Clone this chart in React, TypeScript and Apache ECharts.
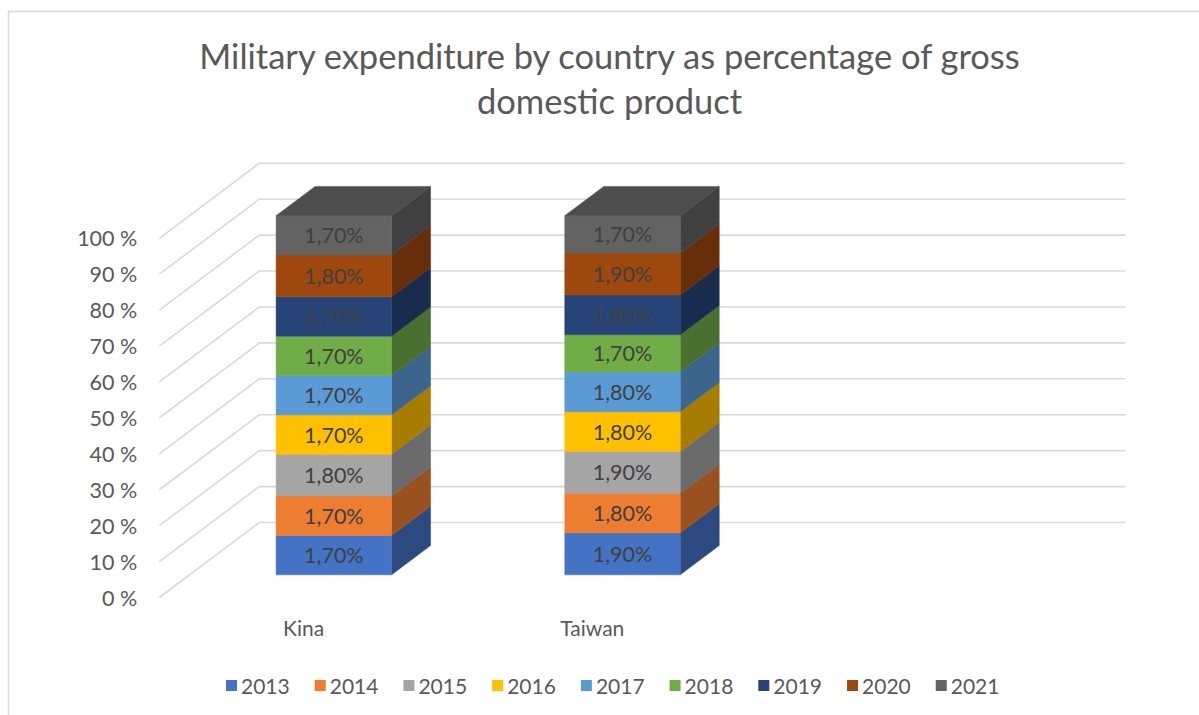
import React, { useEffect, useRef } from "react";
import * as echarts from "echarts";

const categories = ["Kina", "Taiwan", ""];
const years = ["2013", "2014", "2015", "2016", "2017", "2018", "2019", "2020", "2021"];
const kinaValues = [1.7, 1.7, 1.8, 1.7, 1.7, 1.7, 1.7, 1.8, 1.7];
const taiwanValues = [1.9, 1.8, 1.9, 1.8, 1.8, 1.7, 1.8, 1.9, 1.7];
const yTicks = [0, 10, 20, 30, 40, 50, 60, 70, 80, 90, 100];
const frontColors = ["#4472C4", "#ED7D31", "#A5A5A5", "#FFC000", "#5B9BD5", "#70AD47", "#264478", "#9E480E", "#636363"];

const FONT = "Lato";
const DX = 100; // per unit depth
const DY = -75;
const Z_FRONT = 0.302;
const Z_BACK = 0.692;
const BAR_RATIO = 0.4;

function shade(hex: string, f: number): string {
  const n = parseInt(hex.slice(1), 16);
  const r = Math.round(((n >> 16) & 255) * f);
  const g = Math.round(((n >> 8) & 255) * f);
  const b = Math.round((n & 255) * f);
  return "rgb(" + r + "," + g + "," + b + ")";
}

export default function App() {
  const ref = useRef<HTMLDivElement>(null);
  useEffect(() => {
    if (!ref.current) return;
    const chart = echarts.init(ref.current, undefined, { renderer: "svg" });
    const countryValues = [kinaValues, taiwanValues];
    const totals = countryValues.map((vals) => vals.reduce((a, b) => a + b, 0));
    const cum = countryValues.map(() => 0);

    const barSeries = years.map((year, si) => {
      const data = countryValues.map((vals, ci) => {
        const start = (cum[ci] / totals[ci]) * 100;
        cum[ci] += vals[si];
        const end = (cum[ci] / totals[ci]) * 100;
        return [ci, start, end, vals[si]];
      });
      const isLast = si === years.length - 1;
      return {
        name: year,
        type: "custom",
        z: 3,
        itemStyle: { color: frontColors[si] },
        encode: { x: 0, y: 2 },
        data,
        renderItem: (params: any, api: any) => {
          const ci = api.value(0);
          const s0 = api.value(1);
          const s1 = api.value(2);
          const raw = api.value(3);
          const pb = api.coord([ci, s0]);
          const pt = api.coord([ci, s1]);
          const bw = api.size([1, 0])[0] * BAR_RATIO;
          const fx0 = pb[0] + DX * Z_FRONT - bw / 2;
          const fx1 = fx0 + bw;
          const fyB = pb[1] + DY * Z_FRONT;
          const fyT = pt[1] + DY * Z_FRONT;
          const ddx = DX * (Z_BACK - Z_FRONT);
          const ddy = DY * (Z_BACK - Z_FRONT);
          const col = frontColors[si];
          const children: any[] = [
            {
              type: "polygon",
              shape: { points: [[fx1, fyB], [fx1 + ddx, fyB + ddy], [fx1 + ddx, fyT + ddy], [fx1, fyT]] },
              style: { fill: shade(col, 0.65), stroke: shade(col, 0.65), lineWidth: 0.5 },
            },
            {
              type: "rect",
              shape: { x: fx0, y: fyT, width: bw, height: fyB - fyT },
              style: { fill: col, stroke: col, lineWidth: 0.5 },
            },
          ];
          if (isLast) {
            children.push({
              type: "polygon",
              shape: { points: [[fx0, fyT], [fx1, fyT], [fx1 + ddx, fyT + ddy], [fx0 + ddx, fyT + ddy]] },
              style: { fill: shade(col, 0.78), stroke: shade(col, 0.78), lineWidth: 0.5 },
            });
          }
          children.push({
            type: "text",
            style: {
              x: fx0 + bw / 2,
              y: (fyT + fyB) / 2,
              text: raw.toFixed(2).replace(".", ",") + "%",
              fill: "#404040",
              font: "21.5px " + FONT,
              align: "center",
              verticalAlign: "middle",
            },
          });
          return { type: "group", children };
        },
      };
    });

    const gridSeries = {
      name: "walls",
      type: "custom",
      z: 1,
      silent: true,
      encode: { x: 0, y: 1 },
      data: yTicks.map((t) => [0, t]),
      renderItem: (params: any, api: any) => {
        const p = api.coord([0, api.value(1)]);
        const cs = params.coordSys;
        const x0 = cs.x;
        const y = p[1];
        return {
          type: "polyline",
          shape: { points: [[x0, y], [x0 + DX, y + DY], [x0 + cs.width + DX, y + DY]] },
          style: { stroke: "#d9d9d9", lineWidth: 1.6, fill: "none" },
        };
      },
    };

    chart.setOption({
      animation: false,
      backgroundColor: "#ffffff",
      title: {
        text: "Military expenditure by country as percentage of gross\ndomestic product",
        left: "center",
        top: 28,
        textStyle: { fontFamily: FONT, fontSize: 34.5, fontWeight: "normal", color: "#595959", lineHeight: 45 },
      },
      legend: {
        data: years,
        left: 221,
        top: 670,
        icon: "rect",
        itemWidth: 11,
        itemHeight: 11,
        itemGap: 25,
        textStyle: { fontFamily: FONT, fontSize: 21, color: "#595959", padding: [0, 0, 0, -1] },
      },
      grid: { left: 159.3, top: 238.3, width: 866, height: 359.2 },
      xAxis: {
        type: "category",
        data: categories,
        axisLine: { show: false },
        axisTick: { show: false },
        splitLine: { show: false },
        axisLabel: { fontFamily: FONT, fontSize: 21, color: "#595959", margin: 19 },
      },
      yAxis: {
        type: "value",
        min: 0,
        max: 100,
        interval: 10,
        axisLine: { show: false },
        axisTick: { show: false },
        splitLine: { show: false },
        axisLabel: { fontFamily: FONT, fontSize: 21.5, color: "#595959", margin: 22, formatter: "{value} %" },
      },
      graphic: [
        {
          type: "rect",
          silent: true,
          z: -10,
          shape: { x: 8.5, y: 11.5, width: 1202, height: 800 },
          style: { fill: "none", stroke: "#d9d9d9", lineWidth: 1.5 },
        },
      ],
      series: [gridSeries, ...barSeries],
    });
    return () => chart.dispose();
  }, []);

  return (
    <div style={{ position: "fixed", left: 0, top: 0, width: 1199, height: 715, overflow: "hidden", background: "#fff" }}>
      <div ref={ref} style={{ position: "absolute", left: 0, top: 0, width: 1219, height: 740 }} />
    </div>
  );
}
